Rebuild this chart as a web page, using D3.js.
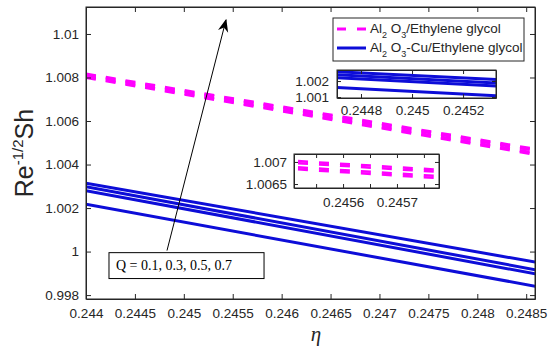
<!DOCTYPE html>
<html>
<head>
<meta charset="utf-8">
<script src="https://cdn.jsdelivr.net/npm/d3@7"></script>
<style>
  body { margin: 0; background: #fff; }
  svg text { font-family: "Liberation Sans", Arial, sans-serif; fill: #262626; }
  .axis path, .axis line { stroke: #262626; }
</style>
</head>
<body>
<div id="chart"></div>
<script>
// data
var etaEnds = [0.244, 0.2486];
var qValues = [0.1, 0.3, 0.5, 0.7];
// Al2O3/Ethylene glycol, one row per Q (value at each end of eta)
var al2o3 = [[1.00800, 1.00446], [1.00804, 1.00452], [1.00812, 1.00464], [1.00816, 1.00470]];
// Al2O3-Cu/Ethylene glycol
var hybrid = [[1.00217, 0.99840], [1.00280, 0.99897], [1.00298, 0.99916], [1.00314, 0.99951]];

var xTicks = [0.244, 0.2445, 0.245, 0.2455, 0.246, 0.2465, 0.247, 0.2475, 0.248, 0.2485];
var yTicks = [0.998, 1, 1.002, 1.004, 1.006, 1.008, 1.01];
var inset1XTicks = [0.2448, 0.245, 0.2452];
var inset1YTicks = [1.001, 1.002];
var inset2XTicks = [0.24555, 0.2456, 0.24565, 0.2457, 0.24575];
var inset2XLabels = [0.2456, 0.2457];
var inset2YTicks = [1.0065, 1.007];
var legendLabels = [["Al", "2", " O", "3", "/Ethylene glycol"], ["Al", "2", " O", "3", "-Cu/Ethylene glycol"]];

var magenta = "#ff00ff", blue = "#0d0dd8";

let width = 550, height = 352;
let svg = d3.select('#chart').append('svg')
  .attr('width', width)
  .attr('height', height);

let x = d3.scaleLinear().domain([0.244, 0.24859]).range([86, 535]);
let y = d3.scaleLinear().domain([0.99782, 1.01124]).range([299, 7]);

// turn rows into line data
function toPoints(row) {
  return row.map((v, i) => [etaEnds[i], v]);
}

/** draws a boxed axes panel with inward ticks on every side */
function panel(g, xs, ys, opts) {
  let [x0, x1] = xs.range();
  let [y0, y1] = ys.range();
  let id = opts.id;

  g.append('clipPath').attr('id', id)
    .append('rect').attr('x', x0).attr('y', y1).attr('width', x1 - x0).attr('height', y0 - y1);
  g.append('rect').attr('x', x0).attr('y', y1).attr('width', x1 - x0).attr('height', y0 - y1)
    .attr('fill', '#fff');

  let lines = g.append('g').attr('clip-path', `url(#${id})`);
  let line = d3.line().x(d => xs(d[0])).y(d => ys(d[1]));

  hybrid.forEach(row => {
    lines.append('path').datum(toPoints(row))
      .attr('d', line).attr('fill', 'none')
      .attr('stroke', blue).attr('stroke-width', opts.blueW);
  });
  al2o3.forEach(row => {
    lines.append('path').datum(toPoints(row))
      .attr('d', line).attr('fill', 'none')
      .attr('stroke', magenta).attr('stroke-width', opts.magW)
      .attr('stroke-dasharray', opts.dash);
  });

  let fmt = d => String(d);
  let ts = opts.tick;
  let labelSet = opts.xLabels || opts.xTicks;

  g.append('g').attr('class', 'axis').attr('transform', `translate(0,${y0})`)
    .call(d3.axisBottom(xs).tickValues(opts.xTicks).tickSizeInner(-ts).tickSizeOuter(0)
      .tickPadding(opts.xPad).tickFormat(d => labelSet.includes(d) ? fmt(d) : ''))
    .style('font-size', opts.font + 'px');
  g.append('g').attr('class', 'axis').attr('transform', `translate(0,${y1})`)
    .call(d3.axisTop(xs).tickValues(opts.xTicks).tickSizeInner(-ts).tickSizeOuter(0).tickFormat(''));
  g.append('g').attr('class', 'axis').attr('transform', `translate(${x0},0)`)
    .call(d3.axisLeft(ys).tickValues(opts.yTicks).tickSizeInner(-ts).tickSizeOuter(0)
      .tickPadding(opts.yPad).tickFormat(fmt))
    .style('font-size', opts.font + 'px');
  g.append('g').attr('class', 'axis').attr('transform', `translate(${x1},0)`)
    .call(d3.axisRight(ys).tickValues(opts.yTicks).tickSizeInner(-ts).tickSizeOuter(0).tickFormat(''));

  g.selectAll('.axis text').attr('fill', '#262626').style('font-family', '"Liberation Sans", Arial, sans-serif');
  g.append('rect').attr('x', x0).attr('y', y1).attr('width', x1 - x0).attr('height', y0 - y1)
    .attr('fill', 'none').attr('stroke', '#262626').attr('stroke-width', 1);
}

/**
 * main axes
 */
panel(svg.append('g'), x, y, {
  id: 'clipMain', xTicks: xTicks, yTicks: yTicks, tick: 5,
  xPad: 9, yPad: 7, font: 13.5, blueW: 3, magW: 3, dash: '10,10'
});

// axis titles
svg.append('text')
  .attr('x', 316).attr('y', 341)
  .attr('text-anchor', 'middle')
  .style('font-family', '"Liberation Serif", "Times New Roman", serif')
  .style('font-style', 'italic')
  .style('font-size', '21px')
  .text('η');

let ylab = svg.append('text')
  .attr('transform', 'translate(33,153) rotate(-90)')
  .attr('text-anchor', 'middle')
  .style('font-size', '25px');
ylab.append('tspan').text('Re');
ylab.append('tspan').attr('dy', -10).style('font-size', '15px').text('-1/2');
ylab.append('tspan').attr('dy', 10).text('Sh');

/**
 * Q annotation: arrow and box
 */
svg.append('defs').append('marker')
  .attr('id', 'arrowhead').attr('viewBox', '0 0 10 10')
  .attr('refX', 9).attr('refY', 5)
  .attr('markerWidth', 13).attr('markerHeight', 13)
  .attr('markerUnits', 'userSpaceOnUse')
  .attr('orient', 'auto')
  .append('path').attr('d', 'M0,1 L10,5 L0,9 L3,5 Z').attr('fill', '#000');

svg.append('line')
  .attr('x1', x(0.244828)).attr('y1', y(1.000046))
  .attr('x2', x(0.245431)).attr('y2', y(1.01064))
  .attr('stroke', '#000').attr('stroke-width', 1)
  .attr('marker-end', 'url(#arrowhead)');

svg.append('rect')
  .attr('x', x(0.244235)).attr('y', y(0.99995))
  .attr('width', x(0.24582) - x(0.244235)).attr('height', y(0.99876) - y(0.99995))
  .attr('fill', '#fff').attr('stroke', '#000').attr('stroke-width', 1);
svg.append('text')
  .attr('x', x(0.244235) + 7).attr('y', y(0.99995) + 17)
  .style('font-family', '"Liberation Serif", "Times New Roman", serif')
  .style('font-size', '14px')
  .style('fill', '#000')
  .text('Q = ' + qValues.join(', '));

/**
 * insets
 */
let x1s = d3.scaleLinear().domain([0.244706, 0.245329]).range([337, 496]);
let y1s = d3.scaleLinear().domain([1.00094, 1.00269]).range([98, 70]);
panel(svg.append('g'), x1s, y1s, {
  id: 'clipIn1', xTicks: inset1XTicks, yTicks: inset1YTicks, tick: 4,
  xPad: 7, yPad: 8, font: 13.5, blueW: 3, magW: 2.5, dash: '10,10'
});

let x2s = d3.scaleLinear().domain([0.245509, 0.245778]).range([294, 439]);
let y2s = d3.scaleLinear().domain([1.00641, 1.00718]).range([188, 154]);
panel(svg.append('g'), x2s, y2s, {
  id: 'clipIn2', xTicks: inset2XTicks, xLabels: inset2XLabels, yTicks: inset2YTicks, tick: 4,
  xPad: 9, yPad: 7, font: 13.5, blueW: 3, magW: 2.5, dash: '10,11'
});

/**
 * legend
 */
let leg = svg.append('g');
leg.append('rect').attr('x', 333).attr('y', 18).attr('width', 191).attr('height', 43)
  .attr('fill', '#fff').attr('stroke', '#262626').attr('stroke-width', 1);

[magenta, blue].forEach((c, i) => {
  let ly = 29 + i * 19;
  leg.append('line').attr('x1', 337).attr('x2', 366).attr('y1', ly).attr('y2', ly)
    .attr('stroke', c).attr('stroke-width', 3)
    .attr('stroke-dasharray', i === 0 ? '9,11' : null);
  let t = leg.append('text').attr('x', 370).attr('y', ly + 4).style('font-size', '13.5px');
  let parts = legendLabels[i];
  t.append('tspan').text(parts[0]);
  t.append('tspan').attr('dy', 5).style('font-size', '9px').text(parts[1]);
  t.append('tspan').attr('dy', -5).text(parts[2]);
  t.append('tspan').attr('dy', 5).style('font-size', '9px').text(parts[3]);
  t.append('tspan').attr('dy', -5).text(parts[4]);
});
</script>
</body>
</html>
